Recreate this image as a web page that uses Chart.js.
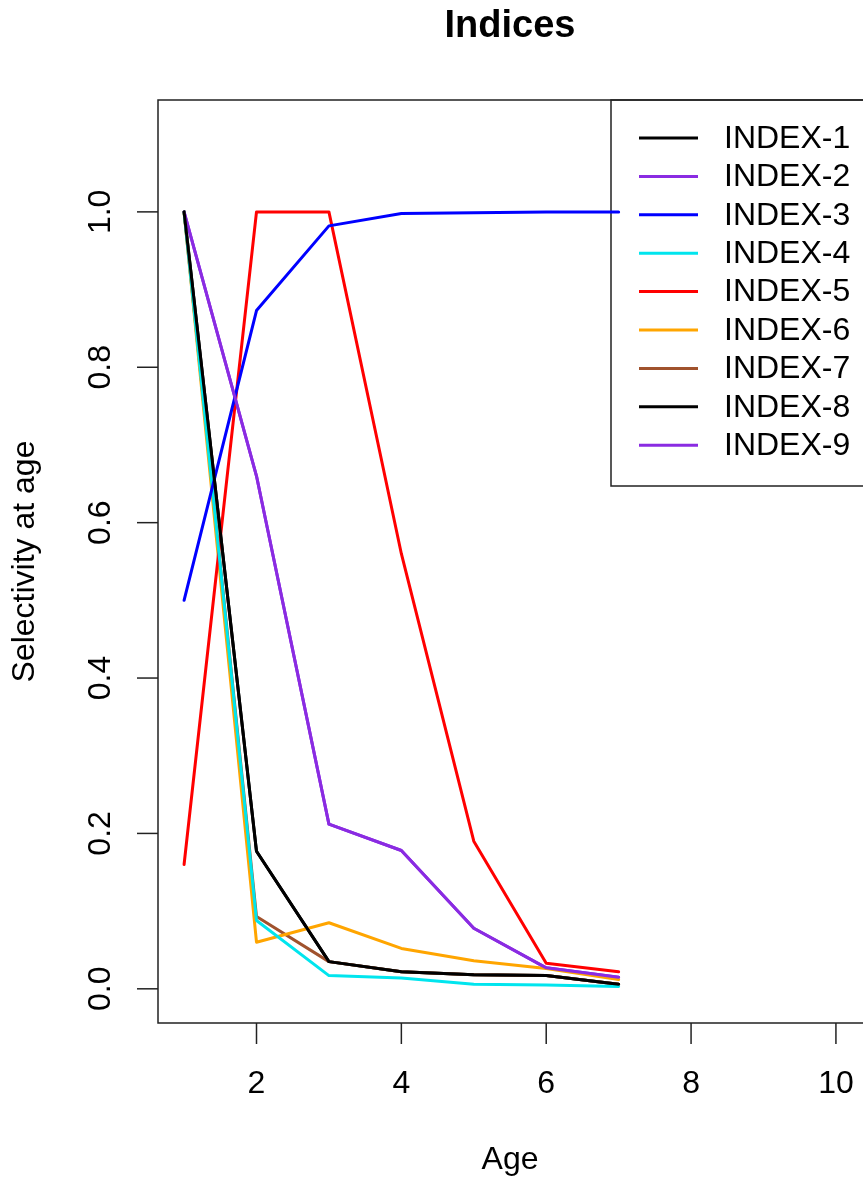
<!DOCTYPE html>
<html>
<head>
<meta charset="utf-8">
<script src="https://cdn.jsdelivr.net/npm/chart.js@4.4.1/dist/chart.umd.min.js"></script>
<style>
html,body{margin:0;padding:0;background:#fff;}
#wrap{width:863px;height:1180px;}
</style>
</head>
<body>
<div id="wrap"><canvas id="c" width="863" height="1180"></canvas></div>
<script>
const ages = [1, 2, 3, 4, 5, 6, 7];
const index1 = [1.000, 0.177, 0.035, 0.022, 0.018, 0.017, 0.006];
const index2 = [1.000, 0.660, 0.212, 0.178, 0.078, 0.027, 0.015];
const index3 = [0.500, 0.873, 0.982, 0.998, 0.999, 1.000, 1.000];
const index4 = [1.000, 0.088, 0.017, 0.014, 0.006, 0.005, 0.003];
const index5 = [0.160, 1.000, 1.000, 0.560, 0.190, 0.033, 0.022];
const index6 = [1.000, 0.060, 0.085, 0.052, 0.036, 0.026, 0.012];
const index7 = [1.000, 0.093, 0.035, 0.022, 0.018, 0.017, 0.006];
const index8 = [1.000, 0.177, 0.035, 0.022, 0.018, 0.017, 0.006];
const index9 = [1.000, 0.660, 0.212, 0.178, 0.078, 0.027, 0.015];

const seriesNames = ['INDEX-1','INDEX-2','INDEX-3','INDEX-4','INDEX-5','INDEX-6','INDEX-7','INDEX-8','INDEX-9'];
const seriesValues = [index1,index2,index3,index4,index5,index6,index7,index8,index9];
const seriesColors = ['#000000','#8A2BE2','#0000FF','#00E5EE','#FF0000','#FFA500','#A0522D','#000000','#8A2BE2'];

const xTicks = [2, 4, 6, 8, 10];
const yTicks = [0.0, 0.2, 0.4, 0.6, 0.8, 1.0];
const yTickLabels = ['0.0','0.2','0.4','0.6','0.8','1.0'];
const titleText = 'Indices';
const xTitle = 'Age';
const yTitle = 'Selectivity at age';

const FONT = "'Liberation Sans', Arial, Helvetica, sans-serif";

const datasets = seriesNames.map((n, i) => ({
  label: n,
  data: ages.map((a, j) => ({x: a, y: seriesValues[i][j]})),
  borderColor: seriesColors[i],
  backgroundColor: seriesColors[i],
  borderWidth: 3,
  pointRadius: 0,
  tension: 0,
  fill: false,
  borderJoinStyle: 'round',
  borderCapStyle: 'round'
}));

const legendPlugin = {
  id: 'rLegend',
  beforeDatasetsDraw(chart) {
    const ctx = chart.ctx;
    const a = chart.chartArea;
    ctx.save();
    const lx = 611, ly = a.top, lw = 300, lh = 386;
    ctx.fillStyle = '#fff';
    ctx.fillRect(lx, ly, lw, lh);
    ctx.strokeStyle = '#222';
    ctx.lineWidth = 1.5;
    ctx.strokeRect(lx, ly, lw, lh);
    ctx.font = '32px ' + FONT;
    ctx.textBaseline = 'middle';
    ctx.textAlign = 'left';
    for (let i = 0; i < seriesNames.length; i++) {
      const y = 138 + i * 38.4;
      ctx.strokeStyle = seriesColors[i];
      ctx.lineWidth = 3;
      ctx.beginPath();
      ctx.moveTo(639, y);
      ctx.lineTo(698, y);
      ctx.stroke();
      ctx.fillStyle = '#000';
      ctx.fillText(seriesNames[i], 724, y + 1);
    }
    ctx.restore();
  },
  afterDraw(chart) {
    const ctx = chart.ctx;
    const a = chart.chartArea;
    const xs = chart.scales.x, ys = chart.scales.y;
    ctx.save();
    ctx.strokeStyle = '#222';
    ctx.lineWidth = 1.5;
    // plot box (right edge falls just outside the picture)
    ctx.beginPath();
    ctx.moveTo(a.right + 10, a.top);
    ctx.lineTo(a.left, a.top);
    ctx.lineTo(a.left, a.bottom);
    ctx.lineTo(a.right + 10, a.bottom);
    ctx.stroke();
    // x ticks
    ctx.fillStyle = '#000';
    ctx.font = '32px ' + FONT;
    ctx.textAlign = 'center';
    ctx.textBaseline = 'middle';
    xTicks.forEach(t => {
      const px = xs.getPixelForValue(t);
      ctx.beginPath();
      ctx.moveTo(px, a.bottom);
      ctx.lineTo(px, a.bottom + 21);
      ctx.stroke();
      ctx.fillText(String(t), px, 1084);
    });
    // y ticks
    yTicks.forEach((t, i) => {
      const py = ys.getPixelForValue(t);
      ctx.beginPath();
      ctx.moveTo(a.left, py);
      ctx.lineTo(a.left - 21, py);
      ctx.stroke();
      ctx.save();
      ctx.translate(101, py);
      ctx.rotate(-Math.PI / 2);
      ctx.fillText(yTickLabels[i], 0, 0);
      ctx.restore();
    });
    // axis titles
    ctx.fillText(xTitle, (a.left + a.right) / 2, 1160);
    ctx.save();
    ctx.translate(25, (a.top + a.bottom) / 2);
    ctx.rotate(-Math.PI / 2);
    ctx.fillText(yTitle, 0, 0);
    ctx.restore();
    // main title
    ctx.font = 'bold 38px ' + FONT;
    ctx.fillText(titleText, (a.left + a.right) / 2, 27);
    ctx.restore();
  }
};

new Chart(document.getElementById('c'), {
  type: 'line',
  data: { datasets },
  options: {
    responsive: false,
    animation: false,
    devicePixelRatio: 1,
    layout: { padding: { left: 158, top: 100, right: 1, bottom: 157 } },
    plugins: { legend: { display: false }, tooltip: { enabled: false }, title: { display: false } },
    scales: {
      x: { type: 'linear', min: 0.64, max: 10.36, display: false },
      y: { type: 'linear', min: -0.044, max: 1.144, display: false }
    }
  },
  plugins: [legendPlugin]
});
</script>
</body>
</html>
